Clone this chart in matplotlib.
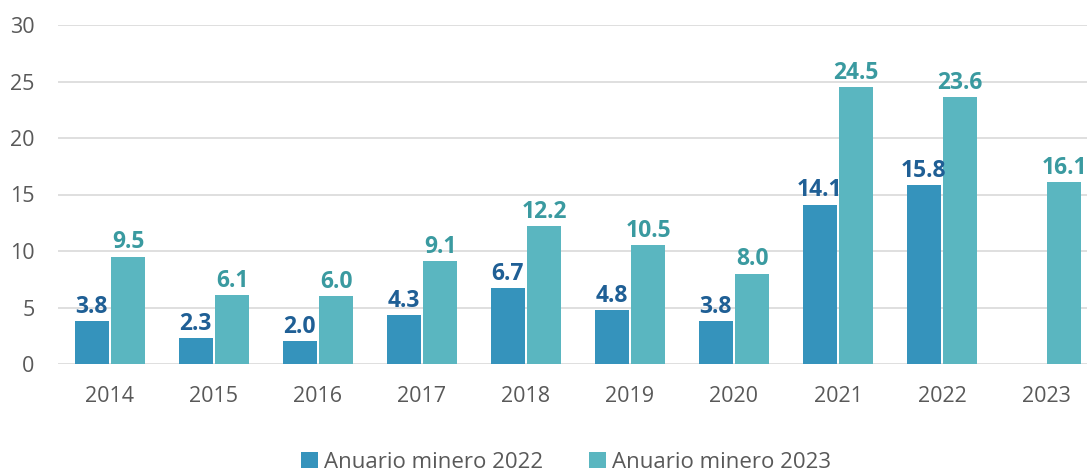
import matplotlib.pyplot as plt
import numpy as np

plt.rcParams['font.family'] = ['Open Sans', 'DejaVu Sans']

# Data
years = ['2014', '2015', '2016', '2017', '2018', '2019', '2020', '2021', '2022', '2023']
anuario_2022 = [3.8, 2.3, 2.0, 4.3, 6.7, 4.8, 3.8, 14.1, 15.8, None]
anuario_2023 = [9.5, 6.1, 6.0, 9.1, 12.2, 10.5, 8.0, 24.5, 23.6, 16.1]

c_dark = '#3593BC'
c_light = '#5AB6C0'
c_dark_txt = '#1F5F95'
c_light_txt = '#3A9AA0'

fig = plt.figure(figsize=(10.87, 4.72), dpi=100)
ax = fig.add_axes([58 / 1087, 108 / 472, 1040 / 1087, 339 / 472])

x = np.arange(len(years))
w = 0.33
gap = 0.01

v22 = [np.nan if v is None else v for v in anuario_2022]
b1 = ax.bar(x - w / 2 - gap, v22, w, color=c_dark, label='Anuario minero 2022')
b2 = ax.bar(x + w / 2 + gap, anuario_2023, w, color=c_light, label='Anuario minero 2023')

for xi, v in zip(x, anuario_2022):
    if v is not None:
        ax.text(xi - w / 2 - gap, v + 0.2, f'{v:.1f}', ha='center', va='bottom',
                fontsize=16.5, fontweight='bold', color=c_dark_txt)
for xi, v in zip(x, anuario_2023):
    ax.text(xi + w / 2 + gap, v + 0.2, f'{v:.1f}', ha='center', va='bottom',
            fontsize=16.5, fontweight='bold', color=c_light_txt)

ax.set_ylim(0, 30)
ax.set_xlim(-0.5, len(years) - 0.5)
ax.set_yticks(range(0, 31, 5))
ax.set_xticks(x)
ax.set_xticklabels(years)
ax.yaxis.grid(True, color='#D9D9D9', linewidth=1.2)
ax.set_axisbelow(True)
for s in ['top', 'right', 'left', 'bottom']:
    ax.spines[s].set_visible(False)
ax.tick_params(axis='both', length=0, labelsize=15.5, colors='#595959')
ax.tick_params(axis='x', pad=16)
ax.tick_params(axis='y', pad=17)

ax.legend(loc='center', bbox_to_anchor=(566 / 1087, 10 / 472), bbox_transform=fig.transFigure,
          ncol=2, frameon=False, fontsize=16, handlelength=0.75, handleheight=0.75,
          columnspacing=2.1, handletextpad=0.25, labelcolor='#595959')

fig.savefig('out.png', dpi=100)
